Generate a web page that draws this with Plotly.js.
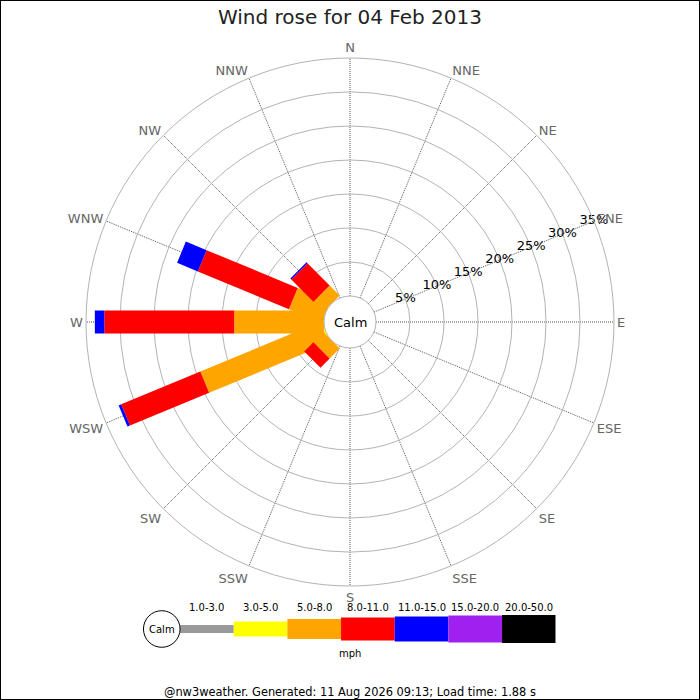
<!DOCTYPE html>
<html>
<head>
<meta charset="utf-8">
<script src="https://cdn.plot.ly/plotly-3.0.1.min.js"></script>
<style>
body { margin: 0; }
#chart { width: 700px; height: 700px; box-sizing: border-box; border: 1px solid black; }
</style>
</head>
<body>
<div id="chart"></div>
<script>

let directions = ['N','NNE','NE','ENE','E','ESE','SE','SSE','S','SSW','SW','WSW','W','WNW','NW','NNW'];
let speed_bins = ['1.0-3.0','3.0-5.0','5.0-8.0','8.0-11.0','11.0-15.0','15.0-20.0','20.0-50.0'];
let bin_colors = ['#999999','#ffff00','#ffa500','#ff0000','#0000ff','#a020f0','#000000'];

// percent of readings per direction (N..NNW), one array per speed bin
let pct_1_3   = [0,0,0,0,0,0,0,0,0,0,0,  0,   0,   0,   0,  0];
let pct_3_5   = [0,0,0,0,0,0,0,0,0,0,0,  0.3, 0,   0,   0,  0];
let pct_5_8   = [0,0,0,0,0,0,0,0,0,0,2.1,19.0,13.2,5.2, 2.1,0];
let pct_8_11  = [0,0,0,0,0,0,0,0,0,0,1.9,12.6,19.1,14.5,4.6,0];
let pct_11_15 = [0,0,0,0,0,0,0,0,0,0,0,  0.4, 1.4, 3.3, 0.2,0];
let pct_15_20 = [0,0,0,0,0,0,0,0,0,0,0,  0,   0,   0,   0,  0];
let pct_20_50 = [0,0,0,0,0,0,0,0,0,0,0,  0,   0,   0,   0,  0];

let radial_ticks = [5,10,15,20,25,30,35];



function direction_angle(i)
{
    return i * 360 / directions.length;
}



function build_rose(bins)
{
    let base = directions.map(() => 0);
    let traces = [];
    for (let b = 0; b < bins.length; ++b)
    {
        let r = [];
        let theta = [];
        for (let d = 0; d < directions.length; ++d)
        {
            let v = bins[b][d];
            if (v > 0)
            {
                r.push(base[d], base[d] + v, null);
                theta.push(direction_angle(d), direction_angle(d), null);
                base[d] += v;
            }
        }
        traces.push({
            type: 'scatterpolar', mode: 'lines', r, theta,
            line: {color: bin_colors[b], width: 23},
            connectgaps: false, hoverinfo: 'skip', showlegend: false
        });
    }
    return traces;
}



let bins = [pct_1_3, pct_3_5, pct_5_8, pct_8_11, pct_11_15, pct_15_20, pct_20_50];
let data = build_rose(bins);

// radial tick labels sitting on the ENE spoke
data.push({
    type: 'scatterpolar', mode: 'text',
    r: radial_ticks,
    theta: radial_ticks.map(() => direction_angle(directions.indexOf('ENE'))),
    text: radial_ticks.map(t => t + '%'),
    textfont: {size: 13, color: 'black'},
    cliponaxis: false, hoverinfo: 'skip', showlegend: false
});

// speed legend bars, getting thicker with speed
let legend_thickness = [8, 15, 20, 23, 25, 27, 28];
data.push({
    type: 'bar',
    x: speed_bins.map((s, i) => i),
    y: legend_thickness,
    base: legend_thickness.map(h => -h / 2),
    width: 1,
    marker: {color: bin_colors, line: {width: 0}},
    hoverinfo: 'skip', showlegend: false,
    xaxis: 'x', yaxis: 'y'
});

let font = 'DejaVu Sans, sans-serif';

let annotations = speed_bins.map((s, i) => ({
    text: s, x: i, y: 22, xref: 'x', yref: 'y',
    showarrow: false, yanchor: 'middle',
    font: {size: 10, color: 'black'}
}));
annotations.push({
    text: 'Calm', x: -0.5, xshift: -18, y: 0, xref: 'x', yref: 'y',
    showarrow: false, yanchor: 'middle', font: {size: 10, color: 'black'}
});
annotations.push({
    text: 'mph', x: 0.5, y: 1 - 652/698, xref: 'paper', yref: 'paper',
    showarrow: false, yanchor: 'middle', font: {size: 10, color: 'black'}
});
annotations.push({
    text: 'Calm', x: 0.5, y: 1 - 321/698, xref: 'paper', yref: 'paper',
    showarrow: false, yanchor: 'middle', font: {size: 13, color: 'black'}
});
annotations.push({
    text: '@nw3weather. Generated: 11 Aug 2026 09:13; Load time: 1.88 s',
    x: 0.5, y: 1 - 691/698, xref: 'paper', yref: 'paper',
    showarrow: false, yanchor: 'middle', font: {size: 11.4, color: 'black'}
});

let layout = {
    width: 698, height: 698,
    margin: {l: 0, r: 0, t: 0, b: 0},
    paper_bgcolor: 'white',
    font: {family: font},
    title: {
        text: 'Wind rose for 04 Feb 2013',
        x: 0.5, y: 1 - 16/698, yanchor: 'middle',
        font: {size: 20, color: '#222'}
    },
    polar: {
        domain: {x: [85/698, 613/698], y: [1 - 585/698, 1 - 57/698]},
        hole: 26/264,
        bgcolor: 'white',
        radialaxis: {
            range: [0, 35], tickmode: 'array', tickvals: [0].concat(radial_ticks),
            showticklabels: false, ticks: '', showline: false,
            gridcolor: '#b3b3b3', gridwidth: 1, angle: 67.5
        },
        angularaxis: {
            direction: 'clockwise', rotation: 90,
            tickmode: 'array',
            tickvals: directions.map((d, i) => direction_angle(i)),
            ticktext: directions,
            ticks: '',
            tickfont: {size: 13, color: '#666'},
            gridcolor: '#555', griddash: '1px,1px', gridwidth: 1,
            showline: true, linecolor: '#b3b3b3', linewidth: 1
        }
    },
    // legend strip: one unit per speed bin, one unit of y per pixel
    xaxis: {domain: [125.4/698, 554.7/698], range: [-1.5, 6.5], visible: false, fixedrange: true},
    yaxis: {domain: [1 - 654/698, 1 - 602/698], range: [-26, 26], visible: false, fixedrange: true},
    shapes: [{
        type: 'circle', xref: 'x', yref: 'y',
        xsizemode: 'pixel', ysizemode: 'pixel', xanchor: -0.5, yanchor: 0,
        x0: -36.6, x1: 0, y0: -18.3, y1: 18.3,
        line: {color: 'black', width: 1}, fillcolor: 'white', layer: 'above'
    }],
    annotations,
    showlegend: false
};

Plotly.newPlot('chart', data, layout, {displayModeBar: false, staticPlot: true});

</script>
</body>
</html>
